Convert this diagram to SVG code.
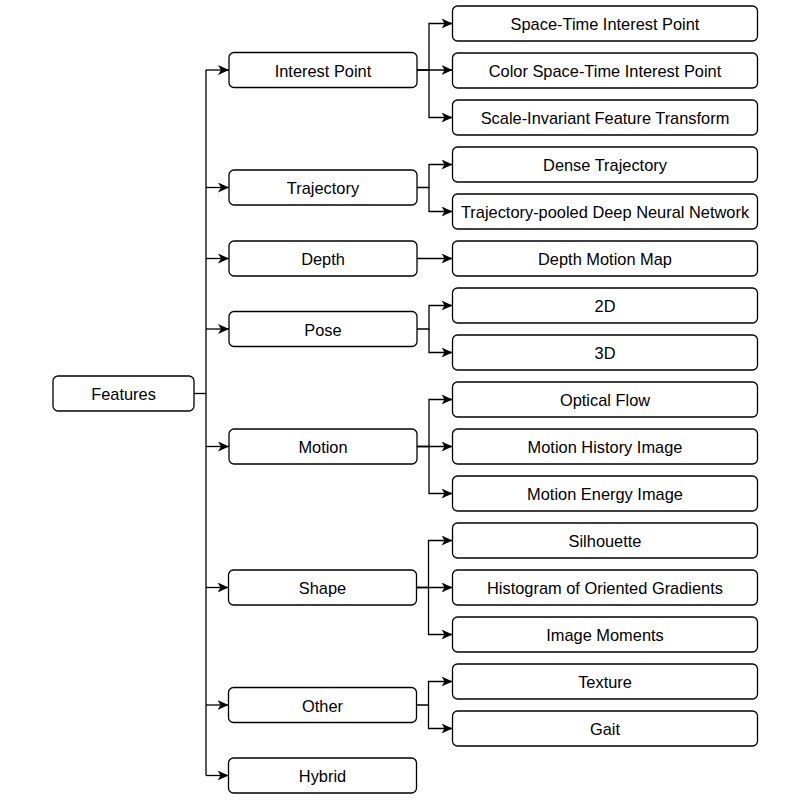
<svg xmlns="http://www.w3.org/2000/svg" width="800" height="808" viewBox="0 0 800 808">
<defs>
<marker id="arr" markerUnits="userSpaceOnUse" markerWidth="13" markerHeight="11" refX="11" refY="5" orient="auto">
<path d="M0,0 L11,5 L0,10 L3,5 Z" fill="#000"/>
</marker>
<style>
.box{fill:#fff;stroke:#000;stroke-width:1.3}
.t{font-family:"Liberation Sans",Arial,sans-serif;font-size:16.4px;fill:#000;text-anchor:middle;dominant-baseline:central}
.c{fill:none;stroke:#000;stroke-width:1.3}
.a{marker-end:url(#arr)}
</style>
</defs>
<rect width="800" height="808" fill="#fff"/>
<g id="connectors">
<path class="c" d="M194,393.5 H206"/>
<path class="c" d="M206,70 V775.5"/>
<path class="c a" d="M206,70 H229"/>
<path class="c a" d="M206,187.5 H229"/>
<path class="c a" d="M206,258.5 H229"/>
<path class="c a" d="M206,329 H229"/>
<path class="c a" d="M206,446.5 H229"/>
<path class="c a" d="M206,587.5 H228.5"/>
<path class="c a" d="M206,705 H228.5"/>
<path class="c a" d="M206,775.5 H228.5"/>
<path class="c a" d="M417,70 H429 V23.5 H452.5"/>
<path class="c a" d="M417,70 H452.5"/>
<path class="c a" d="M429,70 V117.5 H452.5"/>
<path class="c a" d="M417,187.5 H429 V164.5 H452.5"/>
<path class="c a" d="M429,187.5 V211.5 H452.5"/>
<path class="c a" d="M417,258.5 H452.5"/>
<path class="c a" d="M417,329 H429 V305.5 H452.5"/>
<path class="c a" d="M429,329 V352.5 H452.5"/>
<path class="c a" d="M417,446.5 H429 V399.5 H452.5"/>
<path class="c a" d="M417,446.5 H452.5"/>
<path class="c a" d="M429,446.5 V493.5 H452.5"/>
<path class="c a" d="M416.5,587.5 H428.5 V540.5 H452.5"/>
<path class="c a" d="M416.5,587.5 H452.5"/>
<path class="c a" d="M428.5,587.5 V634.5 H452.5"/>
<path class="c a" d="M416.5,705 H428.5 V681.5 H452.5"/>
<path class="c a" d="M428.5,705 V728.5 H452.5"/>
</g>
<g id="features"><rect class="box" x="53" y="376" width="141" height="35" rx="5"/><text class="t" x="123.5" y="394">Features</text></g>
<g id="interest-point"><rect class="box" x="229" y="52.5" width="188" height="35" rx="5"/><text class="t" x="323" y="70.5">Interest Point</text></g>
<g id="trajectory"><rect class="box" x="229" y="170" width="188" height="35" rx="5"/><text class="t" x="323" y="188">Trajectory</text></g>
<g id="depth"><rect class="box" x="229" y="241" width="188" height="35" rx="5"/><text class="t" x="323" y="259">Depth</text></g>
<g id="pose"><rect class="box" x="229" y="311.5" width="188" height="35" rx="5"/><text class="t" x="323" y="329.5">Pose</text></g>
<g id="motion"><rect class="box" x="229" y="429" width="188" height="35" rx="5"/><text class="t" x="323" y="447">Motion</text></g>
<g id="shape"><rect class="box" x="228.5" y="570" width="188" height="35" rx="5"/><text class="t" x="322.5" y="588">Shape</text></g>
<g id="other"><rect class="box" x="228.5" y="687.5" width="188" height="35" rx="5"/><text class="t" x="322.5" y="705.5">Other</text></g>
<g id="hybrid"><rect class="box" x="228.5" y="758" width="188" height="35" rx="5"/><text class="t" x="322.5" y="776">Hybrid</text></g>
<g id="stip"><rect class="box" x="452.5" y="6" width="305" height="35" rx="5"/><text class="t" x="605" y="24">Space-Time Interest Point</text></g>
<g id="cstip"><rect class="box" x="452.5" y="53" width="305" height="35" rx="5"/><text class="t" x="605" y="71">Color Space-Time Interest Point</text></g>
<g id="sift"><rect class="box" x="452.5" y="100" width="305" height="35" rx="5"/><text class="t" x="605" y="118">Scale-Invariant Feature Transform</text></g>
<g id="dense"><rect class="box" x="452.5" y="147" width="305" height="35" rx="5"/><text class="t" x="605" y="165">Dense Trajectory</text></g>
<g id="tdd"><rect class="box" x="452.5" y="194" width="305" height="35" rx="5"/><text class="t" x="605" y="212">Trajectory-pooled Deep Neural Network</text></g>
<g id="dmm"><rect class="box" x="452.5" y="241" width="305" height="35" rx="5"/><text class="t" x="605" y="259">Depth Motion Map</text></g>
<g id="pose2d"><rect class="box" x="452.5" y="288" width="305" height="35" rx="5"/><text class="t" x="605" y="306">2D</text></g>
<g id="pose3d"><rect class="box" x="452.5" y="335" width="305" height="35" rx="5"/><text class="t" x="605" y="353">3D</text></g>
<g id="optical"><rect class="box" x="452.5" y="382" width="305" height="35" rx="5"/><text class="t" x="605" y="400">Optical Flow</text></g>
<g id="mhi"><rect class="box" x="452.5" y="429" width="305" height="35" rx="5"/><text class="t" x="605" y="447">Motion History Image</text></g>
<g id="mei"><rect class="box" x="452.5" y="476" width="305" height="35" rx="5"/><text class="t" x="605" y="494">Motion Energy Image</text></g>
<g id="silhouette"><rect class="box" x="452.5" y="523" width="305" height="35" rx="5"/><text class="t" x="605" y="541">Silhouette</text></g>
<g id="hog"><rect class="box" x="452.5" y="570" width="305" height="35" rx="5"/><text class="t" x="605" y="588">Histogram of Oriented Gradients</text></g>
<g id="moments"><rect class="box" x="452.5" y="617" width="305" height="35" rx="5"/><text class="t" x="605" y="635">Image Moments</text></g>
<g id="texture"><rect class="box" x="452.5" y="664" width="305" height="35" rx="5"/><text class="t" x="605" y="682">Texture</text></g>
<g id="gait"><rect class="box" x="452.5" y="711" width="305" height="35" rx="5"/><text class="t" x="605" y="729">Gait</text></g>
</svg>
